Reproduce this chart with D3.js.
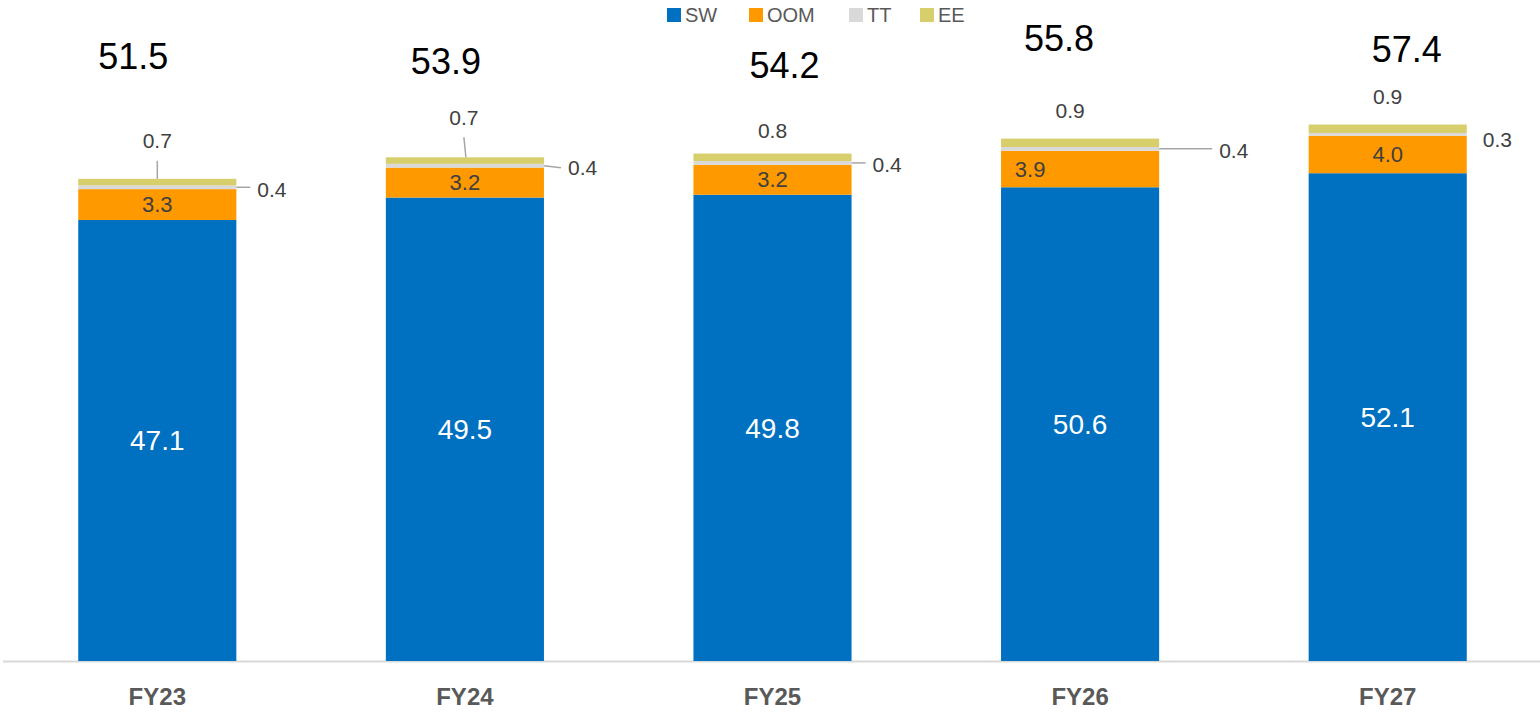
<!DOCTYPE html>
<html>
<head>
<meta charset="utf-8">
<script src="https://cdn.jsdelivr.net/npm/d3@7"></script>
<style>
  body { margin: 0; background: #fff; }
  text { font-family: "Liberation Sans", Arial, sans-serif; }
</style>
</head>
<body>
<script>
const categories = ["FY23", "FY24", "FY25", "FY26", "FY27"];
const seriesKeys = ["SW", "OOM", "TT", "EE"];
const sw = [47.1, 49.5, 49.8, 50.6, 52.1];
const oom = [3.3, 3.2, 3.2, 3.9, 4.0];
const tt = [0.4, 0.4, 0.4, 0.4, 0.3];
const ee = [0.7, 0.7, 0.8, 0.9, 0.9];
const totals = [51.5, 53.9, 54.2, 55.8, 57.4];

const colors = { SW: "#0070C0", OOM: "#FF9900", TT: "#D9D9D9", EE: "#D7CE6C" };

// hand-placed label nudges (px), like the data labels in the source deck
const totalNudge = [[-24, -122], [-19, -96], [12, -88], [-21, -100], [19, -75]];
const eeNudge = [[0, -38], [-1, -40], [0, -23], [-10, -28], [0, -28]];
const ttLeader = [14, 17, 14, 53, 0];

const width = 1540, height = 717;
const margin = { top: 0, bottom: 56, left: 3.5, right: -1.5 };

const svg = d3.select("body").append("svg")
    .attr("width", width)
    .attr("height", height);

const data = categories.map((c, i) => ({ cat: c, SW: sw[i], OOM: oom[i], TT: tt[i], EE: ee[i] }));

const x = d3.scaleBand()
    .domain(categories)
    .range([margin.left, width - margin.right])
    .paddingInner(0.486)
    .paddingOuter(0.243);

const y = d3.scaleLinear()
    .domain([0, 70.6])
    .range([height - margin.bottom, 0]);

const stacked = d3.stack().keys(seriesKeys)(data);

// baseline
svg.append("line")
    .attr("x1", 3).attr("x2", width)
    .attr("y1", y(0) + 0.5).attr("y2", y(0) + 0.5)
    .attr("stroke", "#D9D9D9").attr("stroke-width", 2);

svg.append("g").selectAll("g")
    .data(stacked).join("g")
    .attr("fill", d => colors[d.key])
    .selectAll("rect")
    .data(d => d).join("rect")
    .attr("x", d => x(d.data.cat))
    .attr("width", x.bandwidth())
    .attr("y", d => y(d[1]))
    .attr("height", d => y(d[0]) - y(d[1]));

// SW labels
svg.append("g").selectAll("text")
    .data(stacked[0]).join("text")
    .attr("x", d => x(d.data.cat) + x.bandwidth() / 2)
    .attr("y", d => (y(d[0]) + y(d[1])) / 2)
    .attr("dy", "0.35em")
    .attr("text-anchor", "middle")
    .attr("fill", "#fff")
    .attr("font-size", 28)
    .text(d => d.data.SW.toFixed(1));

// OOM labels
svg.append("g").selectAll("text")
    .data(stacked[1]).join("text")
    .attr("x", (d, i) => x(d.data.cat) + x.bandwidth() / 2 - (i === 3 ? 50 : 0))
    .attr("y", d => (y(d[0]) + y(d[1])) / 2)
    .attr("dy", "0.35em")
    .attr("text-anchor", "middle")
    .attr("fill", "#404040")
    .attr("font-size", 22)
    .text(d => d.data.OOM.toFixed(1));

// TT labels to the right with leader lines
const ttG = svg.append("g");
stacked[2].forEach((d, i) => {
    const right = x(d.data.cat) + x.bandwidth();
    const ym = (y(d[0]) + y(d[1])) / 2;
    if (ttLeader[i] > 0) {
        ttG.append("line")
            .attr("x1", right).attr("x2", right + ttLeader[i])
            .attr("y1", ym).attr("y2", ym + (i === 1 ? 2 : 0))
            .attr("stroke", "#A6A6A6").attr("stroke-width", 1.5);
    }
    ttG.append("text")
        .attr("x", right + (ttLeader[i] > 0 ? ttLeader[i] + 7 : 16))
        .attr("y", ym + (i === 4 ? 5 : 2))
        .attr("dy", "0.35em")
        .attr("fill", "#404040")
        .attr("font-size", 21)
        .text(d.data.TT.toFixed(1));
});

// EE labels above with leader lines
const eeG = svg.append("g");
stacked[3].forEach((d, i) => {
    const cx = x(d.data.cat) + x.bandwidth() / 2;
    const top = y(d[1]);
    const lx = cx + eeNudge[i][0], ly = top + eeNudge[i][1];
    if (i < 2) {
        eeG.append("line")
            .attr("x1", lx).attr("y1", ly + 20)
            .attr("x2", cx + (i === 1 ? 1 : 0)).attr("y2", top)
            .attr("stroke", "#A6A6A6").attr("stroke-width", 1.5);
    }
    eeG.append("text")
        .attr("x", lx)
        .attr("y", ly)
        .attr("dy", "0.35em")
        .attr("text-anchor", "middle")
        .attr("fill", "#404040")
        .attr("font-size", 21)
        .text(d.data.EE.toFixed(1));
});

// totals
svg.append("g").selectAll("text")
    .data(stacked[3]).join("text")
    .attr("x", (d, i) => x(d.data.cat) + x.bandwidth() / 2 + totalNudge[i][0])
    .attr("y", (d, i) => y(d[1]) + totalNudge[i][1])
    .attr("dy", "0.35em")
    .attr("text-anchor", "middle")
    .attr("fill", "#000")
    .attr("font-size", 36)
    .text((d, i) => totals[i].toFixed(1));

// x axis
const xAxis = d3.axisBottom(x).tickSize(0).tickPadding(27);
svg.append("g")
    .attr("transform", `translate(0,${y(0)})`)
    .call(xAxis)
    .call(g => g.select(".domain").remove())
    .selectAll("text")
    .attr("font-size", 24)
    .attr("font-weight", "bold")
    .attr("fill", "#595959")
    .attr("font-family", "'Liberation Sans', Arial, sans-serif");

// legend
const legendX = [667, 749, 849, 920];
const legend = svg.append("g").attr("transform", "translate(0,15)");
seriesKeys.forEach((k, i) => {
    legend.append("rect")
        .attr("x", legendX[i]).attr("y", -7)
        .attr("width", 14).attr("height", 14)
        .attr("fill", colors[k]);
    legend.append("text")
        .attr("x", legendX[i] + 18)
        .attr("y", 0)
        .attr("dy", "0.35em")
        .attr("fill", "#595959")
        .attr("font-size", 20)
        .text(k);
});
</script>
</body>
</html>
